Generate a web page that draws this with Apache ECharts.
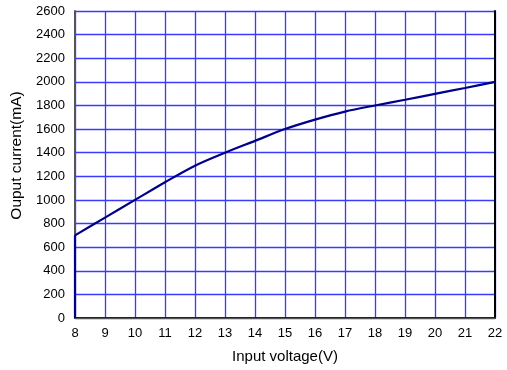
<!DOCTYPE html>
<html><head><meta charset="utf-8">
<script src="https://cdn.jsdelivr.net/npm/echarts@6/dist/echarts.min.js"></script>
<style>html,body{margin:0;padding:0;background:#fff}#c{width:507px;height:370px}</style>
</head><body><div id="c"></div>
<script>
const xValues = [8, 9, 10, 11, 12, 13, 14, 15, 16, 17, 18, 19, 20, 21, 22];
const currentValues = [700, 850, 1000, 1150, 1290, 1400, 1500, 1600, 1680, 1748, 1800, 1848, 1898, 1948, 2000];
const startSegmentX = [8, 8];
const startSegmentY = [0, 700];
const xTicks = [8, 9, 10, 11, 12, 13, 14, 15, 16, 17, 18, 19, 20, 21, 22];
const yTicks = [0, 200, 400, 600, 800, 1000, 1200, 1400, 1600, 1800, 2000, 2200, 2400, 2600];

const font = 'Liberation Sans, Arial, sans-serif';
const chart = echarts.init(document.getElementById('c'), null, {renderer: 'canvas'});
chart.setOption({
  animation: false,
  grid: {left: 75, right: 12, top: 11, bottom: 52},
  xAxis: [{
    type: 'value', min: xTicks[0], max: xTicks[xTicks.length - 1], interval: 1,
    name: 'Input voltage(V)', nameLocation: 'middle', nameGap: 31,
    nameTextStyle: {fontFamily: font, fontSize: 15, color: '#000'},
    axisLine: {show: true, lineStyle: {color: '#222', width: 2}},
    axisTick: {show: false},
    axisLabel: {fontFamily: font, fontSize: 13, color: '#000', margin: 9, formatter: v => String(v)},
    splitLine: {show: true, lineStyle: {color: '#3a3aff', width: 1.3}}
  }, {
    type: 'value', position: 'top', min: 8, max: 22,
    axisLine: {show: true, lineStyle: {color: '#555', width: 1}},
    axisTick: {show: false}, axisLabel: {show: false}, splitLine: {show: false}
  }],
  yAxis: [{
    type: 'value', min: yTicks[0], max: yTicks[yTicks.length - 1], interval: 200,
    name: 'Ouput current(mA)', nameLocation: 'middle', nameGap: 44, nameRotate: 90,
    nameTextStyle: {fontFamily: font, fontSize: 15.5, color: '#000', padding: [0, 0, 0, 18]},
    axisLine: {show: true, lineStyle: {color: '#555', width: 2}},
    axisTick: {show: false},
    axisLabel: {fontFamily: font, fontSize: 13, color: '#000', margin: 10, formatter: v => String(v)},
    splitLine: {show: true, lineStyle: {color: '#3a3aff', width: 1.3}}
  }, {
    type: 'value', position: 'right', min: 0, max: 2600,
    axisLine: {show: true, lineStyle: {color: '#000', width: 2}},
    axisTick: {show: false}, axisLabel: {show: false}, splitLine: {show: false}
  }],
  series: [{
    type: 'line',
    data: startSegmentX.map((x, i) => [x, startSegmentY[i]]),
    showSymbol: false,
    lineStyle: {color: '#00008b', width: 2.2},
    z: 5
  }, {
    type: 'line',
    data: xValues.map((x, i) => [x, currentValues[i]]),
    smooth: 0.3,
    showSymbol: false,
    lineStyle: {color: '#00008b', width: 2.2},
    z: 5
  }]
});
</script></body></html>
